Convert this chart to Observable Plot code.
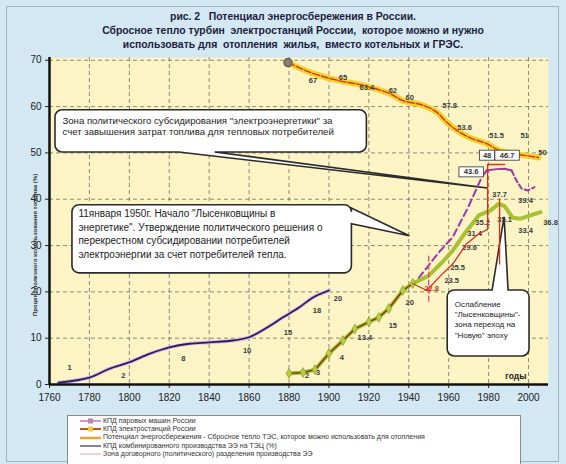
<!DOCTYPE html>
<html><head><meta charset="utf-8">
<script src="https://cdn.jsdelivr.net/npm/d3@7"></script>
<script src="https://cdn.jsdelivr.net/npm/@observablehq/plot@0.6"></script>
<style>
body{margin:0;background:#fff;}
#fig{position:relative;width:566px;height:464px;background:#d3e8f2;overflow:hidden;font-family:"Liberation Sans",Arial,sans-serif;}
#border{position:absolute;left:6px;top:6px;width:553px;height:456px;border:1px solid #9fb4bf;box-sizing:border-box;}
#title{position:absolute;left:20px;width:546px;top:10px;text-align:center;font-weight:bold;font-size:10.4px;line-height:14px;color:#1c1c40;}
#chart{position:absolute;left:0;top:0;}
#ytitle{position:absolute;left:35px;top:245px;width:0;height:0;}
#ytitle span{position:absolute;transform:translate(-50%,-50%) rotate(-90deg);white-space:nowrap;font-size:6px;font-weight:bold;color:#333;}
#legend{position:absolute;left:67px;top:415px;width:452px;height:60px;background:#fff;border:1px solid #8a8a8a;font-size:7px;color:#333;}
.row{position:absolute;left:10px;height:8px;line-height:8px;white-space:nowrap;}
.row svg{vertical-align:middle;margin-right:1px;}
</style></head>
<body>
<div id="fig">
  <div id="border"></div>
  <div id="title">рис. 2&nbsp;&nbsp; Потенциал энергосбережения в России.<br>Сбросное тепло турбин&nbsp; электростанций России,&nbsp; которое можно и нужно<br>использовать для&nbsp; отопления&nbsp; жилья,&nbsp; вместо котельных и ГРЭС.</div>
  <div id="chart"></div>
  <div id="ytitle"><span></span></div>
  <div id="legend"></div>
</div>
<script>
// ---- axes
const xTicks = [1760,1780,1800,1820,1840,1860,1880,1900,1920,1940,1960,1980,2000];
const yTicks = [0,10,20,30,40,50,60,70];

// ---- КПД паровых машин (left curve)
const steamYears  = [1764.5,1780,1790,1800,1810,1820,1830,1840,1852,1860,1869,1877,1885,1892,1900];
const steamValues = [0.4,1.5,3.4,4.8,6.6,8,8.8,9.1,9.5,10.2,12.3,14.5,16.6,18.8,20.3];
const steamLabelYears  = [1770,1797,1827,1859,1879.5,1894,1904.5];
const steamLabelValues = [3.7,1.9,5.6,7.3,11.2,16,18.6];
const steamLabels      = ["1","2","8","10","15","18","20"];

// ---- КПД электростанций
const powerYears  = [1880,1887,1893,1900,1907,1913,1920,1925,1930,1937,1942,1950,1957,1962,1968,1975,1981,1985,1988,1992,1996,2001,2006];
const powerValues = [2.4,2.6,3.2,6.7,9.5,12,13.5,14.5,16.4,20.3,21.8,23.5,26.5,28.9,32.6,36.5,37.6,39,38.5,36,35.8,36.5,37.2];
const powerBrownEnd = 1942;
const powerLabelYears  = [1889,1894.5,1906.5,1918,1932,1940.5,1961.5,1964.5,1970.5,1973,1977,1985.5,1988,1998.5,2011];
const powerLabelValues = [2,2.6,5.8,10.2,12.7,17.7,22.5,25.3,29.6,32.6,35,41,35.6,33.3,35];
const powerLabels      = ["2","3","4","13.4","15","20","23.5","25.5","29.6","31.4","35.2","37.7","35.1","33.4","36.8"];

// ---- red line (зона договорного разделения)
const redYears  = [1942,1949,1956,1962,1969,1975,1979.5,1979.5,1988];
const redValues = [21.8,20.3,23.5,26,30.4,32.5,33.5,47.5,47.5];
const red2Years  = [1985.5,1985.5];
const red2Values = [40,26];
const redDashYears  = [1950,1950];
const redDashValues = [18,28];
const redLabelYears = [1951.5];
const redLabelValues = [20.7];
const redLabels = ["22.8"];

// ---- КПД ТЭЦ (purple)
const chpDash1Years  = [1945,1955,1962,1970,1976.5,1979];
const chpDash1Values = [23,28.5,31.8,38.5,44.7,46.2];
const chpSolidYears  = [1979,1984,1988,1991.5];
const chpSolidValues = [46.2,46.5,46.6,46.2];
const chpDash2Years  = [1991.5,1994,1996.5,1999.5,2003];
const chpDash2Values = [46.2,44,42.3,41.9,42.6];
const chpLabelYears  = [1998.5];
const chpLabelValues = [39.7];
const chpLabels      = ["39.4"];
const boxYears  = [1971.5,1979.5,1989.5];
const boxValues = [45.8,49.4,49.4];
const boxTexts  = ["43.6","48","46.7"];

// ---- потенциал энергосбережения
const potYears  = [1879.5,1890.5,1904,1917,1930.5,1937,1947,1954,1959,1964,1970.5,1979,1985.5,1992,2005];
const potValues = [69.5,67.4,65.7,64.6,62.8,61.3,60.3,58.8,56.6,54.9,53.3,52,50.5,49.9,49];
const potLabelYears  = [1892,1907,1919,1932,1940.5,1960.5,1968,1984,1998,2007];
const potLabelValues = [65.7,66.3,64,63.5,62,60.3,55.5,53.8,53.8,50.1];
const potLabels      = ["67","65","63.4","62","60","57.8","53.6","51.5","51","50"];

// ---- callouts
const calloutTexts = [
  "Зона политического субсидирования \"электроэнергетики\" за\nсчет завышения затрат топлива для тепловых потребителей",
  "11января 1950г. Начало \"Лысенковщины в\nэнергетике\". Утверждение политического решения о\nперекрестном субсидировании потребителей\nэлектроэнергии за счет потребителей тепла.",
  "Ослабление\n\"Лысенковщины\"-\nзона переход на\n\"Новую\" эпоху"
];
const calloutLeft   = [1763,1771.5,1959.5];
const calloutRight  = [1919,1911.5,2000.5];
const calloutTop    = [59.2,38.7,20.3];
const calloutBottom = [50.1,24.0,6.05];
const calloutSide   = ["bottom","right","top"];
const calloutBaseA  = [1825,38.0,1982];
const calloutBaseB  = [1843,34.6,1990];
const calloutTipYears  = [1979.5,1940.5,1988];
const calloutTipValues = [42.3,32.0,36.1];
const calloutTextYears  = [1766.5,1774.5,1963];
const calloutTextValues = [58.0,38.3,18.3];

const axisTitle = "Процент полезного использования топлива (%)";
const yearsTitle = "годы";

const legendItems = [
  "КПД паровых машин России",
  "КПД электростанций России",
  "Потенциал энергосбережения - Сбросное тепло ТЭС, которое можно использовать для отопления",
  "КПД комбинированного производства ЭЭ на ТЭЦ (%)",
  "Зона договорного (политического) разделения производства ЭЭ"
];

// ---- helpers
const pts = (xs, ys) => xs.map((x, i) => ({x, y: ys[i]}));
const lbl = (xs, ys, t) => xs.map((x, i) => ({x, y: ys[i], t: t[i]}));
const steam = pts(steamYears, steamValues);
const power = pts(powerYears, powerValues);
const powerBrown = power.filter(d => d.x <= powerBrownEnd);
const pot = pts(potYears, potValues);

const callouts = calloutTexts.map((t, i) => ({
  t, left: calloutLeft[i], right: calloutRight[i], top: calloutTop[i], bottom: calloutBottom[i],
  side: calloutSide[i], a: calloutBaseA[i], b: calloutBaseB[i], tx: calloutTipYears[i], ty: calloutTipValues[i],
  lx: calloutTextYears[i], ly: calloutTextValues[i]
}));

function calloutShapes(index, scales) {
  const g = d3.create("svg:g");
  for (const c of callouts) {
    const x0 = scales.x(c.left), x1 = scales.x(c.right), y0 = scales.y(c.top), y1 = scales.y(c.bottom);
    const tx = scales.x(c.tx), ty = scales.y(c.ty), r = 7;
    const p = d3.path();
    p.moveTo(x0 + r, y0);
    if (c.side === "top") { p.lineTo(scales.x(c.a), y0); p.lineTo(tx, ty); p.lineTo(scales.x(c.b), y0); }
    p.lineTo(x1 - r, y0); p.arcTo(x1, y0, x1, y0 + r, r);
    if (c.side === "right") { p.lineTo(x1, scales.y(c.a)); p.lineTo(tx, ty); p.lineTo(x1, scales.y(c.b)); }
    p.lineTo(x1, y1 - r); p.arcTo(x1, y1, x1 - r, y1, r);
    if (c.side === "bottom") { p.lineTo(scales.x(c.b), y1); p.lineTo(tx, ty); p.lineTo(scales.x(c.a), y1); }
    p.lineTo(x0 + r, y1); p.arcTo(x0, y1, x0, y1 - r, r);
    p.lineTo(x0, y0 + r); p.arcTo(x0, y0, x0 + r, y0, r); p.closePath();
    g.append("path").attr("d", p.toString()).attr("fill", "#fff").attr("stroke", "#2a2a2a").attr("stroke-width", 1.6);
  }
  return g.node();
}

function boxedLabels(index, scales) {
  const g = d3.create("svg:g");
  boxTexts.forEach((t, i) => {
    const cx = scales.x(boxYears[i]), cy = scales.y(boxValues[i]);
    const w = t.length * 4.6 + 6, h = 10;
    g.append("rect").attr("x", cx - w/2).attr("y", cy - h/2).attr("width", w).attr("height", h)
      .attr("fill", "#fff").attr("stroke", "#333").attr("stroke-width", 0.8);
    g.append("text").attr("x", cx).attr("y", cy).attr("dy", "0.35em").attr("text-anchor", "middle")
      .attr("font-size", 7.5).attr("font-weight", "bold").attr("fill", "#333").text(t);
  });
  return g.node();
}

const labelStyle = {x: "x", y: "y", text: "t", fontSize: 7.5, fontWeight: "bold", fill: "#3a3a3a"};
const cText = (i, fontSize, lineHeight) => Plot.text([callouts[i]], {x: "lx", y: "ly", text: "t", textAnchor: "start", lineAnchor: "top", lineHeight, fontSize, fill: "#222"});

const chart = Plot.plot({
  width: 566, height: 415,
  marginLeft: 49, marginRight: 18, marginTop: 57, marginBottom: 31,
  style: {fontFamily: "'Liberation Sans', Arial, sans-serif", fontSize: "10px", color: "#222", background: "transparent", overflow: "visible"},
  x: {domain: [1760, 2010], ticks: xTicks, tickFormat: d3.format("d"), label: null, tickSize: 4, tickPadding: 5},
  y: {domain: [0, 70.6], ticks: yTicks, label: null, tickSize: 4, tickPadding: 4},
  marks: [
    Plot.frame({fill: "#fcf4c4", stroke: "none"}),
    Plot.ruleX(xTicks.slice(1), {stroke: "#444", strokeOpacity: 0.6, strokeDasharray: "4,3"}),
    Plot.ruleY(yTicks.slice(1), {stroke: "#444", strokeOpacity: 0.6, strokeDasharray: "4,3"}),
    calloutShapes,
    cText(0, 9.6, 1.15),
    cText(1, 10, 1.38),
    cText(2, 8, 1.28),
    // potential
    Plot.line(pot, {x: "x", y: "y", stroke: "#f5d02a", strokeWidth: 6, curve: "catmull-rom"}),
    Plot.line(pot, {x: "x", y: "y", stroke: "#cf3a1c", strokeWidth: 1.4, curve: "catmull-rom", strokeDasharray: "7,2"}),
    Plot.dot(pot.slice(0, 1), {x: "x", y: "y", r: 4, fill: "#8a8070", stroke: "#6a6050"}),
    Plot.text(lbl(potLabelYears, potLabelValues, potLabels), labelStyle),
    // steam engines
    Plot.line(steam, {x: "x", y: "y", stroke: "#eab0dc", strokeWidth: 3.6, curve: "catmull-rom"}),
    Plot.line(steam, {x: "x", y: "y", stroke: "#1c2468", strokeWidth: 1.8, curve: "catmull-rom"}),
    Plot.text(lbl(steamLabelYears, steamLabelValues, steamLabels), labelStyle),
    // CHP purple
    Plot.line(pts(chpDash1Years, chpDash1Values), {x: "x", y: "y", stroke: "#9a3aa8", strokeWidth: 2, strokeDasharray: "7,4"}),
    Plot.line(pts(chpSolidYears, chpSolidValues), {x: "x", y: "y", stroke: "#9a3aa8", strokeWidth: 2}),
    Plot.line(pts(chpDash2Years, chpDash2Values), {x: "x", y: "y", stroke: "#9a3aa8", strokeWidth: 2, strokeDasharray: "5,3"}),
    Plot.text(lbl(chpLabelYears, chpLabelValues, chpLabels), labelStyle),
    // power plants
    Plot.line(power, {x: "x", y: "y", stroke: "#a6c232", strokeWidth: 4}),
    Plot.line(powerBrown, {x: "x", y: "y", stroke: "#8a3212", strokeWidth: 1.4}),
    Plot.dot(powerBrown, {x: "x", y: "y", symbol: "diamond", r: 3, fill: "#b8d040", stroke: "#7a9020", strokeWidth: 0.6}),
    Plot.text(lbl(powerLabelYears, powerLabelValues, powerLabels), labelStyle),
    // red lines
    Plot.line(pts(redYears, redValues), {x: "x", y: "y", stroke: "#d8301c", strokeWidth: 1.3}),
    Plot.line(pts(red2Years, red2Values), {x: "x", y: "y", stroke: "#d8301c", strokeWidth: 1.3}),
    Plot.line(pts(redDashYears, redDashValues), {x: "x", y: "y", stroke: "#e0506a", strokeWidth: 1.3, strokeDasharray: "5,3"}),
    Plot.text(lbl(redLabelYears, redLabelValues, redLabels), {...labelStyle, fill: "#c0301c"}),
    boxedLabels,
    // axis lines
    Plot.ruleY([0], {stroke: "#111", strokeWidth: 2.5}),
    Plot.ruleX([1760], {stroke: "#111", strokeWidth: 2.5}),
    Plot.text([yearsTitle], {frameAnchor: "bottom-right", dx: -22, dy: -6, fontSize: 8.5, fontWeight: "bold", fill: "#222"})
  ]
});
document.getElementById("chart").append(chart);
document.querySelector("#ytitle span").textContent = axisTitle;

// legend
const swatches = [
  {stroke: "#d498c8", w: 2, marker: "#c080b0"},
  {stroke: "#c0561c", w: 2, marker: "#e8d030"},
  {stroke: "#f0a030", w: 2.5, marker: null},
  {stroke: "#2e2e8a", w: 1.2, marker: null},
  {stroke: "#e8a0b8", w: 1, marker: null}
];
const legend = d3.select("#legend");
legendItems.forEach((t, i) => {
  const row = legend.append("div").attr("class", "row").style("top", (1 + i * 8.2) + "px");
  const s = row.append("svg").attr("width", 24).attr("height", 6);
  s.append("line").attr("x1", 2).attr("x2", 23).attr("y1", 3).attr("y2", 3)
    .attr("stroke", swatches[i].stroke).attr("stroke-width", swatches[i].w);
  if (swatches[i].marker) s.append("rect").attr("x", 10).attr("y", 0.5).attr("width", 5).attr("height", 5)
    .attr("fill", swatches[i].marker);
  row.append("span").text(t);
});
</script>
</body></html>
